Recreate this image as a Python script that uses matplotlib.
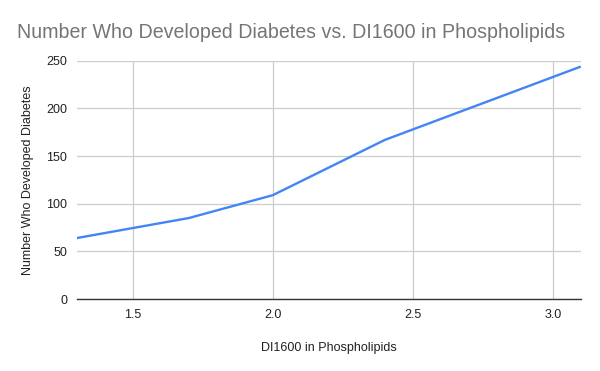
import matplotlib.pyplot as plt

plt.rcParams['font.family'] = ['Liberation Sans', 'DejaVu Sans']

# data
di1600 = [1.3, 1.7, 2.0, 2.4, 3.1]
developed = [64, 85, 109, 167, 244]
x_ticks = [1.5, 2.0, 2.5, 3.0]
y_ticks = [0, 50, 100, 150, 200, 250]

fig = plt.figure(figsize=(6, 3.71), dpi=100)
ax = fig.add_axes([0.128, 0.194, 0.84, 0.642])

ax.plot(di1600, developed, color='#4285F4', linewidth=1.7, solid_capstyle='butt')

ax.set_xlim(1.3, 3.1)
ax.set_ylim(0, 250)
ax.set_xticks(x_ticks)
ax.set_xticklabels(['%.1f' % t for t in x_ticks])
ax.set_yticks(y_ticks)
ax.grid(True, color='#cccccc', linewidth=0.9)
ax.set_axisbelow(True)
for s in ['top', 'right', 'left']:
    ax.spines[s].set_visible(False)
ax.spines['bottom'].set_color('#333333')
ax.spines['bottom'].set_linewidth(1.0)
ax.tick_params(length=0, labelsize=9, colors='#222222', pad=7)

ax.set_xlabel('DI1600 in Phospholipids', fontsize=9, color='#222222', labelpad=15)
ax.set_ylabel('Number Who Developed Diabetes', fontsize=9, color='#222222', labelpad=9)

fig.text(0.028, 0.912, 'Number Who Developed Diabetes vs. DI1600 in Phospholipids',
         fontsize=14.1, color='#757575', ha='left', va='center')

fig.savefig('out.png', dpi=100)
